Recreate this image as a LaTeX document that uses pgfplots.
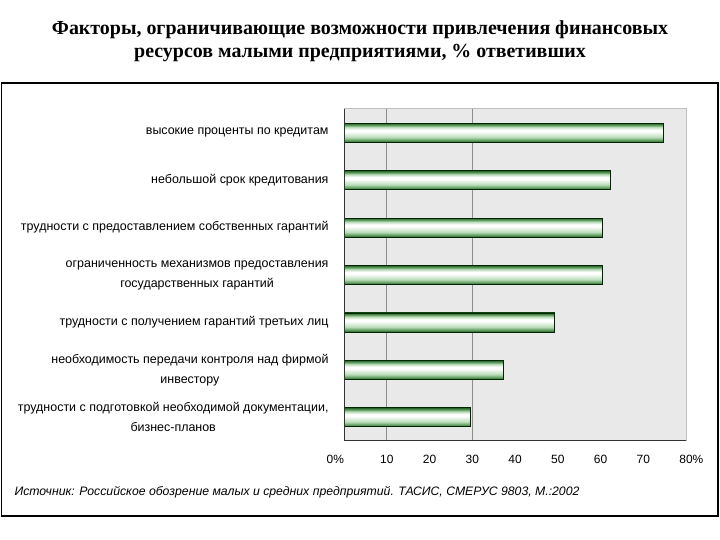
\documentclass[border=0pt]{standalone}
\usepackage{pgfplots}
\pgfplotsset{compat=1.18}
\usepackage{fontspec}
\setmainfont{Liberation Serif}
\setsansfont{Liberation Sans}
\newfontfamily\arialf{Liberation Sans}

\definecolor{plotbg}{RGB}{233,233,233}
\definecolor{gdark}{RGB}{35,95,35}
\definecolor{gmid}{RGB}{95,155,95}
\definecolor{glight}{RGB}{185,220,185}
\definecolor{framegray}{RGB}{190,190,190}

% cylinder-like shading for the bars (25bp = bottom edge, 75bp = top edge)
\pgfdeclareverticalshading{barcyl}{100bp}{%
  color(0bp)=(gdark); color(25bp)=(gdark); color(30bp)=(gmid);
  color(38bp)=(glight); color(53bp)=(white); color(58bp)=(white);
  color(65bp)=(glight); color(70bp)=(gmid); color(75bp)=(gdark);
  color(100bp)=(gdark)}

\pgfplotsset{barsty/.style={draw=black!85!green, line width=0.8bp, shading=barcyl}}

\begin{document}
\begin{tikzpicture}[x=1bp,y=1bp]
\path[use as bounding box] (0,0) rectangle (720,540);

% outer frame
\draw[black, line width=1.5bp] (1.5,24) rectangle (718,457);

% title
\node[font=\bfseries\fontsize{20}{24}\selectfont] at (360,510)
  {Факторы, ограничивающие возможности привлечения финансовых};
\node[font=\bfseries\fontsize{20}{24}\selectfont] at (360,487)
  {ресурсов малыми предприятиями, \% ответивших};

\begin{axis}[
    at={(344bp,99bp)}, anchor=south west,
    scale only axis,
    width=342bp, height=332bp,
    xbar,
    bar width=19bp,
    bar shift=0pt,
    xmin=0, xmax=80,
    ymin=0.5, ymax=7.5,
    y dir=reverse,
    ytick={1,...,7},
    yticklabels={
      высокие проценты по кредитам,
      небольшой срок кредитования,
      трудности с предоставлением собственных гарантий,
      ограниченность механизмов предоставления\\государственных гарантий,
      трудности с получением гарантий третьих лиц,
      необходимость передачи контроля над фирмой\\инвестору,
      {трудности с подготовкой необходимой документации,\\бизнес-планов}
    },
    yticklabel style={font=\arialf\fontsize{12.5}{20}\selectfont, align=center, xshift=-12bp},
    xtick={0,10,...,80},
    xticklabels={\llap{0\%},10,20,30,40,50,60,70,80\rlap{\%}},
    xticklabel style={font=\arialf\fontsize{12}{14}\selectfont, yshift=-11bp},
    major tick length=0pt,
    extra x ticks={10,30},
    extra x tick labels={},
    extra x tick style={grid=major, major grid style={draw=gray!90, line width=0.8bp}},
    axis background/.style={fill=plotbg},
    axis line style={draw=framegray, line width=1bp},
]
% one plot per bar so that each bar gets its own shading
\addplot[barsty] coordinates {(74.6,1)};
\addplot[barsty] coordinates {(62.2,2)};
\addplot[barsty] coordinates {(60.5,3)};
\addplot[barsty] coordinates {(60.5,4)};
\addplot[barsty] coordinates {(49.3,5)};
\addplot[barsty] coordinates {(37.3,6)};
\addplot[barsty] coordinates {(29.6,7)};
\draw[black!80, line width=1bp] (axis cs:0,0.5) -- (axis cs:0,7.5) -- (axis cs:80,7.5);
\end{axis}

% source
\node[anchor=west, font=\arialf\itshape\fontsize{12.3}{14}\selectfont] at (11,48)
  {Источник: Российское обозрение малых и средних предприятий. ТАСИС, СМЕРУС 9803, М.:2002};
\end{tikzpicture}
\end{document}
